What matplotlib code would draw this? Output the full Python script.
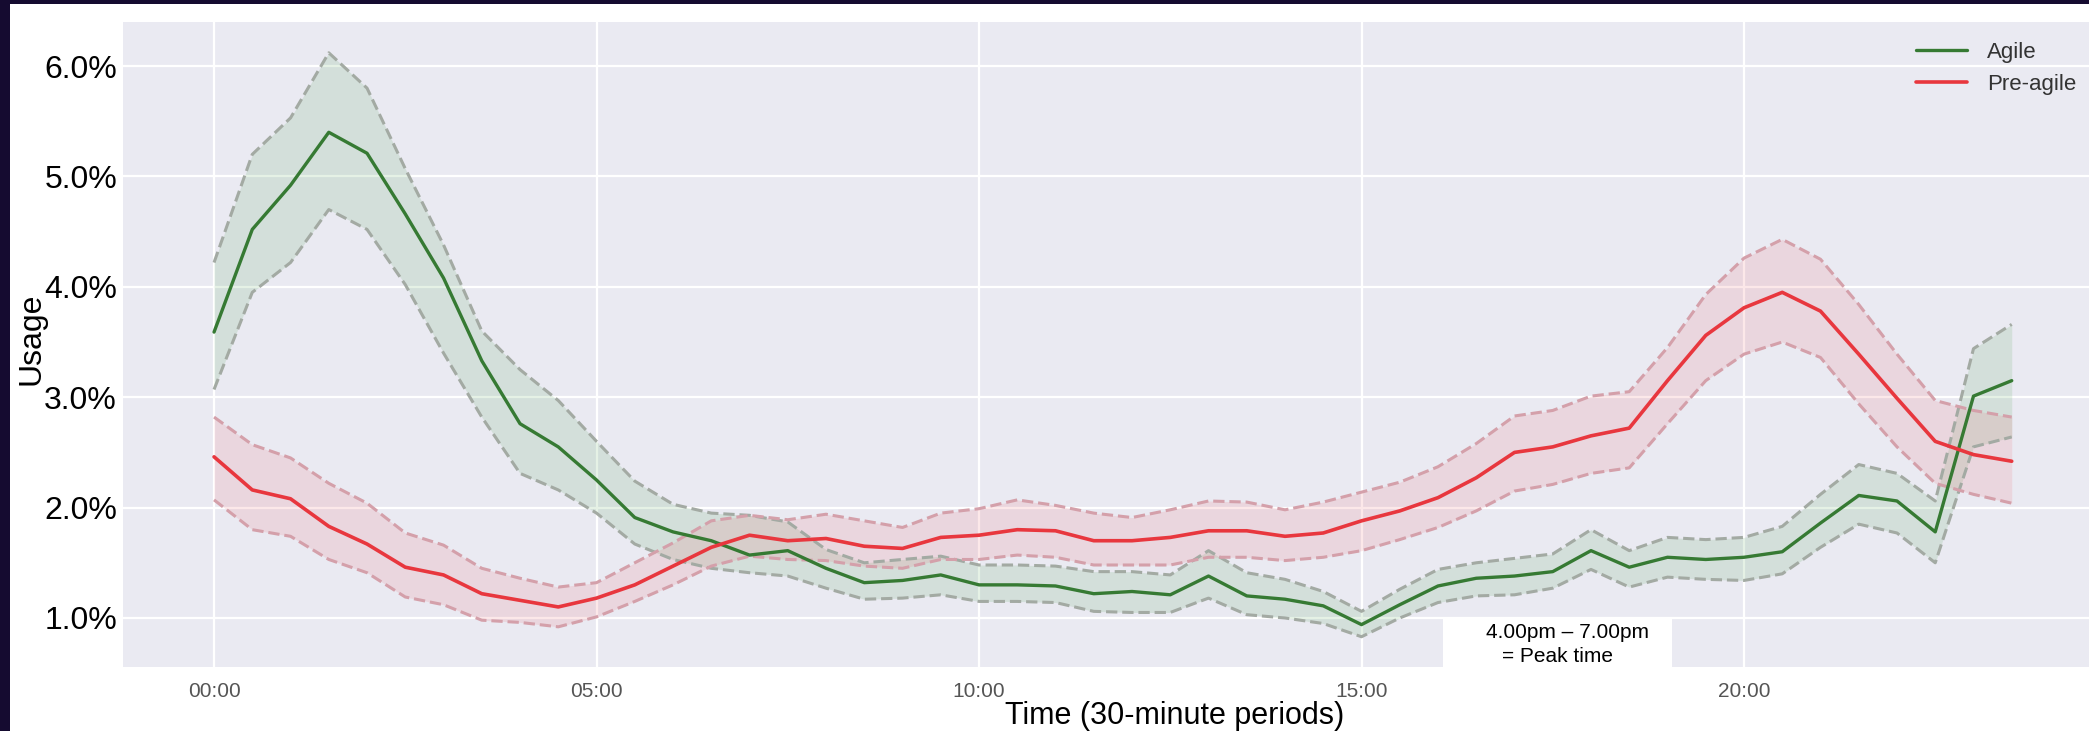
import matplotlib
matplotlib.use("Agg")
import matplotlib.pyplot as plt
from matplotlib.patches import Rectangle
from matplotlib.ticker import FuncFormatter
import seaborn as sns

# ---------------- data (usage in %) ----------------
tick_positions = [0, 10, 20, 30, 40]
tick_labels = ["00:00", "05:00", "10:00", "15:00", "20:00"]

agile_mean = [3.59, 4.52, 4.92, 5.40, 5.21, 4.66, 4.08, 3.33, 2.76, 2.55,
              2.25, 1.91, 1.78, 1.70, 1.57, 1.61, 1.45, 1.32, 1.34, 1.39,
              1.30, 1.30, 1.29, 1.22, 1.24, 1.21, 1.38, 1.20, 1.17, 1.11,
              0.94, 1.12, 1.29, 1.36, 1.38, 1.42, 1.61, 1.46, 1.55, 1.53,
              1.55, 1.60, 1.86, 2.11, 2.06, 1.78, 3.01, 3.15]
agile_upper = [4.22, 5.20, 5.53, 6.12, 5.80, 5.07, 4.38, 3.60, 3.25, 2.97,
               2.60, 2.24, 2.03, 1.95, 1.93, 1.87, 1.62, 1.50, 1.53, 1.56,
               1.48, 1.48, 1.47, 1.42, 1.42, 1.39, 1.61, 1.41, 1.35, 1.24,
               1.06, 1.26, 1.44, 1.50, 1.54, 1.58, 1.80, 1.61, 1.73, 1.71,
               1.73, 1.83, 2.12, 2.39, 2.31, 2.06, 3.44, 3.66]
agile_lower = [3.07, 3.95, 4.22, 4.70, 4.52, 4.02, 3.40, 2.82, 2.31, 2.16,
               1.95, 1.67, 1.53, 1.45, 1.41, 1.38, 1.27, 1.17, 1.18, 1.21,
               1.15, 1.15, 1.14, 1.06, 1.05, 1.05, 1.18, 1.03, 1.00, 0.95,
               0.83, 1.00, 1.14, 1.20, 1.21, 1.27, 1.44, 1.28, 1.37, 1.35,
               1.34, 1.40, 1.64, 1.85, 1.77, 1.50, 2.55, 2.64]

pre_mean = [2.46, 2.16, 2.08, 1.83, 1.67, 1.46, 1.39, 1.22, 1.16, 1.10,
            1.18, 1.30, 1.47, 1.64, 1.75, 1.70, 1.72, 1.65, 1.63, 1.73,
            1.75, 1.80, 1.79, 1.70, 1.70, 1.73, 1.79, 1.79, 1.74, 1.77,
            1.88, 1.97, 2.09, 2.27, 2.50, 2.55, 2.65, 2.72, 3.15, 3.56,
            3.81, 3.95, 3.78, 3.39, 2.99, 2.60, 2.48, 2.42]
pre_upper = [2.82, 2.57, 2.45, 2.22, 2.04, 1.77, 1.66, 1.45, 1.36, 1.28,
             1.32, 1.50, 1.68, 1.88, 1.93, 1.89, 1.94, 1.88, 1.82, 1.95,
             1.99, 2.07, 2.02, 1.95, 1.91, 1.98, 2.06, 2.05, 1.98, 2.05,
             2.14, 2.23, 2.37, 2.58, 2.83, 2.88, 3.01, 3.05, 3.45, 3.93,
             4.26, 4.43, 4.25, 3.84, 3.39, 2.97, 2.88, 2.82]
pre_lower = [2.07, 1.80, 1.74, 1.53, 1.41, 1.19, 1.12, 0.98, 0.96, 0.92,
             1.01, 1.15, 1.30, 1.47, 1.56, 1.53, 1.52, 1.47, 1.45, 1.53,
             1.53, 1.57, 1.55, 1.48, 1.48, 1.48, 1.55, 1.55, 1.52, 1.55,
             1.61, 1.71, 1.82, 1.97, 2.15, 2.21, 2.31, 2.36, 2.76, 3.15,
             3.39, 3.50, 3.36, 2.94, 2.55, 2.22, 2.12, 2.04]

periods = list(range(len(agile_mean)))

# ---------------- style ----------------
sns.set_theme(style="darkgrid")
plt.rcParams["font.family"] = ["Liberation Sans", "DejaVu Sans"]

W, H = 2089, 731
fig = plt.figure(figsize=(W / 100, H / 100), dpi=100, facecolor="white")
ax = fig.add_axes([123 / W, 1 - 667 / H, (W - 123) / W, 645 / H])
ax.set_facecolor("#EAEAF2")
ax.grid(True, color="white", linewidth=1.6)

green = "#367a33"
red = "#e8373e"

ax.fill_between(periods, agile_lower, agile_upper, color="#3a9a3a", alpha=0.13, lw=0)
ax.plot(periods, agile_upper, ls="--", color="#a3aaa3", lw=2.2)
ax.plot(periods, agile_lower, ls="--", color="#a3aaa3", lw=2.2)
ax.fill_between(periods, pre_lower, pre_upper, color="#f0606a", alpha=0.14, lw=0)
ax.plot(periods, pre_upper, ls="--", color="#d4a0aa", lw=2.2)
ax.plot(periods, pre_lower, ls="--", color="#d4a0aa", lw=2.2)

l1, = ax.plot(periods, agile_mean, color=green, lw=2.4, label="Agile")
l2, = ax.plot(periods, pre_mean, color=red, lw=2.6, label="Pre-agile")

ax.set_xlim(-2.38, 49.02)
ax.set_ylim(0.556, 6.399)
ax.set_xticks(tick_positions)
ax.set_xticklabels(tick_labels)
ax.set_yticks([1, 2, 3, 4, 5, 6])
ax.yaxis.set_major_formatter(FuncFormatter(lambda v, p: f"{v:.1f}%"))
ax.tick_params(axis="x", labelsize=15, labelcolor="#555555", pad=11, length=0)
ax.tick_params(axis="y", labelsize=23, labelcolor="black", pad=4.3, length=0)
for s in ax.spines.values():
    s.set_visible(False)

ax.set_xlabel("Time (30-minute periods)", fontsize=22, color="black")
ax.xaxis.set_label_coords(0.535, -0.052)
ax.set_ylabel("Usage", fontsize=23, color="black")
ax.yaxis.set_label_coords(-0.0387, 0.5085)

leg = ax.legend(handles=[l1, l2], loc="upper left",
                bbox_to_anchor=(1916 / W, 1 - 42 / H), bbox_transform=fig.transFigure,
                frameon=False, fontsize=16, handlelength=2.3, handletextpad=0.9,
                labelspacing=0.5, borderpad=0, borderaxespad=0)
for t in leg.get_texts():
    t.set_color("#333333")

# white note box with text
fig.patches.append(Rectangle((1443 / W, 1 - 667 / H), (1672 - 1443) / W, 50 / H,
                             transform=fig.transFigure, facecolor="white",
                             edgecolor="none", zorder=5))
fig.text(1567 / W, 1 - 632 / H, "4.00pm \u2013 7.00pm", fontsize=15, color="black",
         ha="center", va="center", zorder=6)
fig.text(1558 / W, 1 - 656 / H, "= Peak time", fontsize=15, color="black",
         ha="center", va="center", zorder=6)

# dark slide border (left and top)
border = "#150b30"
fig.patches.append(Rectangle((0, 0), 10 / W, 1, transform=fig.transFigure,
                             facecolor=border, edgecolor="none", zorder=10))
fig.patches.append(Rectangle((0, 1 - 4 / H), 1, 4 / H, transform=fig.transFigure,
                             facecolor=border, edgecolor="none", zorder=10))

fig.savefig("out.png", dpi=100, facecolor="white")
